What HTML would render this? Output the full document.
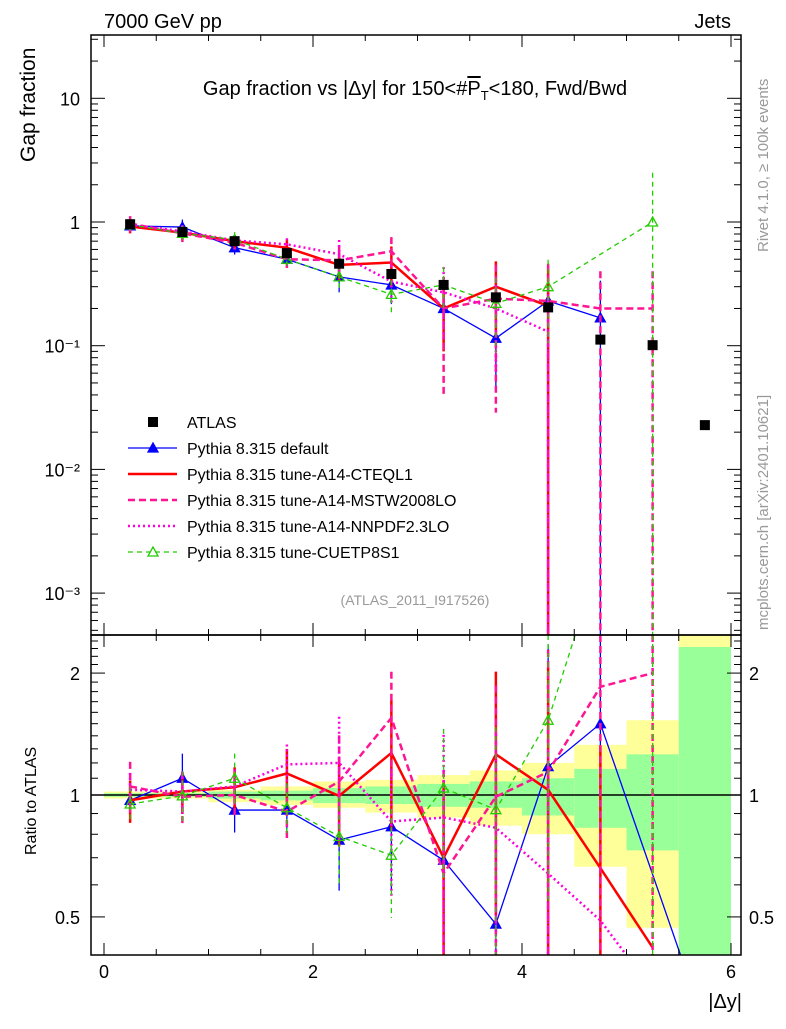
<!DOCTYPE html>
<html><head><meta charset="utf-8"><style>
body{margin:0;background:#fff;font-family:"Liberation Sans",sans-serif;}
svg text{font-family:"Liberation Sans","DejaVu Sans",sans-serif;}
</style></head><body>
<svg id="c" width="786" height="1024" xmlns="http://www.w3.org/2000/svg">
<text x="104" y="28" font-size="20">7000 GeV pp</text>
<text x="731" y="28" font-size="20" text-anchor="end">Jets</text>
<text x="415" y="95" font-size="20" text-anchor="middle">Gap fraction vs |Δy| for 150&lt;#<tspan text-decoration="overline">P</tspan><tspan font-size="13" dy="5">T</tspan><tspan dy="-5">&lt;180, Fwd/Bwd</tspan></text>
<text transform="translate(35,162) rotate(-90)" font-size="21">Gap fraction</text>
<text transform="translate(36,855) rotate(-90)" font-size="16">Ratio to ATLAS</text>
<text transform="translate(768,252) rotate(-90)" font-size="15" fill="#999">Rivet 4.1.0, ≥ 100k events</text>
<text transform="translate(768,630) rotate(-90)" font-size="15" fill="#999">mcplots.cern.ch [arXiv:2401.10621]</text>
<text x="415" y="605" font-size="14" fill="#999" text-anchor="middle">(ATLAS_2011_I917526)</text>
<text x="742" y="1008" font-size="20" text-anchor="end">|Δy|</text>
<g id="bands"></g><g id="marks"></g><g id="axes"></g><g id="legend"></g>
</svg>
<script>
const xCenters=[0.25,0.75,1.25,1.75,2.25,2.75,3.25,3.75,4.25,4.75,5.25,5.75];
const atlas=[0.96,0.83,0.7,0.56,0.46,0.38,0.31,0.246,0.204,0.112,0.101,0.0228];
const bandYellowUp=[0.02,0.02,0.03,0.05,0.08,0.09,0.12,0.15,0.2,0.33,0.53,2];
const bandYellowDn=[0.02,0.02,0.04,0.055,0.07,0.095,0.12,0.16,0.2,0.335,0.53,0.9];
const bandGreenUp=[0.01,0.01,0.02,0.025,0.04,0.05,0.065,0.08,0.1,0.16,0.26,1.32];
const bandGreenDn=[0.01,0.01,0.02,0.03,0.045,0.05,0.065,0.07,0.11,0.17,0.27,0.9];
const topDefault=[0.93,0.91,0.62,0.5,0.36,0.31,0.2,0.115,0.23,0.168,null,null];
const topCTEQ=[0.92,0.82,0.7,0.62,0.45,0.47,0.2,0.3,0.21,null,null,null];
const topMSTW=[0.97,0.81,0.68,0.5,0.49,0.58,0.2,0.24,0.23,0.2,0.2,null];
const topNNPDF=[0.95,0.84,0.71,0.66,0.55,0.33,0.27,0.2,0.13,null,null,null];
const topCUETP=[0.95,0.81,0.72,0.5,0.36,0.26,0.31,0.22,0.3,null,1.0,null];
const ratDefault=[0.97,1.1,0.918,0.918,0.774,0.835,0.69,0.48,1.175,1.5,null,0.27];
const ratCTEQ=[0.97,1.02,1.045,1.13,0.995,1.27,0.7,1.26,1.03,0.66,0.42,null];
const ratMSTW=[1.05,0.99,1.0,0.91,1.08,1.55,0.64,0.99,1.14,1.85,2.0,null];
const ratNNPDF=[1.03,1.02,1.05,1.19,1.2,0.86,0.88,0.83,0.64,0.49,0.33,null];
const ratCUETP=[0.95,0.995,1.1,0.93,0.79,0.71,1.04,0.92,1.53,null,9.9,null];
const errDefault=[0.1,0.15,0.12,0.12,0.25,0.3,0.5,0.6,1.0,1.0,0,0];
const errCTEQ=[0.12,0.12,0.12,0.15,0.25,0.35,0.55,0.6,1.0,1.0,0,0];
const errMSTW=[0.15,0.15,0.12,0.15,0.3,0.3,0.8,0.88,1.0,1.0,1.0,0];
const errNNPDF=[0.1,0.12,0.1,0.12,0.3,0.35,0.6,0.7,1.0,0,0,0];
const errCUETP=[0.1,0.15,0.15,0.15,0.25,0.3,0.4,0.6,0.65,0,1.5,0];
const yTickLabels=["10","1","10⁻¹","10⁻²","10⁻³"];
const xTickLabels=["0","2","4","6"];
const rTickLabels=["0.5","1","2"];

const NS="http://www.w3.org/2000/svg";
const L=91,R=741,T=35,M=635,B=955;
const xs=v=>104+v*104.5;
const ys=v=>222-123.7*Math.log10(v);
const rs=v=>795-405*Math.log10(v);
function mk(tag,attrs,parent){const e=document.createElementNS(NS,tag);for(const k in attrs)e.setAttribute(k,attrs[k]);document.getElementById(parent).appendChild(e);return e;}
function clampT(y){return Math.max(T,Math.min(M,y));}
function clampR(y){return Math.max(M,Math.min(B,y));}

for(let i=0;i<xCenters.length;i++){
  const x0=xs(xCenters[i]-0.25),x1=xs(xCenters[i]+0.25);
  let y1=clampR(rs(1+bandYellowUp[i])),y2=clampR(rs(Math.max(0.01,1-bandYellowDn[i])));
  let e=mk('rect',{x:x0,y:y1,width:x1-x0,height:y2-y1,fill:'#ffff99'},'bands');
  
  
  y1=clampR(rs(1+bandGreenUp[i]));y2=clampR(rs(Math.max(0.01,1-bandGreenDn[i])));
  e=mk('rect',{x:x0,y:y1,width:x1-x0,height:y2-y1,fill:'#99ff99'},'bands');
  
  
}
let ln=mk('line',{x1:L,x2:R,y1:rs(1),y2:rs(1),stroke:'#000','stroke-width':1.5},'bands');



const series=[
 {name:'default',top:topDefault,rat:ratDefault,err:errDefault,col:'#0000ff',w:1.3,dash:'',mark:'tri'},
 {name:'cteql1',top:topCTEQ,rat:ratCTEQ,err:errCTEQ,col:'#ff0000',w:2.5,dash:'',mark:null},
 {name:'mstw2008lo',top:topMSTW,rat:ratMSTW,err:errMSTW,col:'#ff1493',w:2.5,dash:'7,4',mark:null},
 {name:'nnpdf23lo',top:topNNPDF,rat:ratNNPDF,err:errNNPDF,col:'#ff00dd',w:2.5,dash:'2,3',mark:null},
 {name:'cuetp8s1',top:topCUETP,rat:ratCUETP,err:errCUETP,col:'#22cc00',w:1.3,dash:'5,4',mark:'otri'}
];
function drawSeries(s,vals,scale,clamp,clipId,panel){
  let pts=[];
  vals.forEach((v,i)=>{if(v!=null)pts.push([xs(xCenters[i]),scale(v),i,v]);});
  let p=mk('polyline',{points:pts.map(q=>q[0]+','+q[1]).join(' '),fill:'none',stroke:s.col,'stroke-width':s.w,'stroke-dasharray':s.dash,'clip-path':'url(#'+clipId+')'},'marks');
  
  
  pts.forEach(q=>{
    const e=s.err[q[2]];
    if(e>0){
      const yu=clamp(scale(q[3]*(1+e))),yd=e>=1?clamp(99999):clamp(scale(q[3]*(1-e)));
      let b=mk('line',{x1:q[0],x2:q[0],y1:yu,y2:yd,stroke:s.col,'stroke-width':s.w>2?2.5:1.3,'stroke-dasharray':s.dash},'marks');
      
      
    }
    if(s.mark&&q[1]>=clamp(-1)&&q[1]<=clamp(99999)){
      const x=q[0],y=q[1];
      let m=mk('polygon',{points:`${x-5},${y+4} ${x+5},${y+4} ${x},${y-5}`,fill:s.mark=='tri'?s.col:'none',stroke:s.col,'stroke-width':1.3},'marks');
      
      
    }
  });
}
const defs=mk('defs',{},'marks');
let cp=document.createElementNS(NS,'clipPath');cp.setAttribute('id','clipT');defs.appendChild(cp);
let cr=document.createElementNS(NS,'rect');cr.setAttribute('x',L);cr.setAttribute('y',T);cr.setAttribute('width',R-L);cr.setAttribute('height',M-T);cp.appendChild(cr);
cp=document.createElementNS(NS,'clipPath');cp.setAttribute('id','clipR');defs.appendChild(cp);
cr=document.createElementNS(NS,'rect');cr.setAttribute('x',L);cr.setAttribute('y',M);cr.setAttribute('width',R-L);cr.setAttribute('height',B-M);cp.appendChild(cr);
series.forEach(s=>{drawSeries(s,s.top,ys,clampT,'clipT','main');drawSeries(s,s.rat,rs,clampR,'clipR','ratio');});
atlas.forEach((v,i)=>{
  let r=mk('rect',{x:xs(xCenters[i])-5,y:ys(v)-5,width:10,height:10,fill:'#000'},'marks');
  
  
});

function ax(tag,a){const e=mk(tag,a,'axes');return e;}
let fr=ax('rect',{x:L,y:T,width:R-L,height:M-T,fill:'none',stroke:'#000','stroke-width':1.5});

fr=ax('rect',{x:L,y:M,width:R-L,height:B-M,fill:'none',stroke:'#000','stroke-width':1.5});

for(let v=0;v<=6.01;v+=0.5){
  const x=xs(v),big=Math.abs(v-Math.round(v/2)*2)<0.01;const len=big?12:6;
  [[M,M-len],[M,M+len],[T,T+len],[B,B-len]].forEach(p=>{let t=ax('line',{x1:x,x2:x,y1:p[0],y2:p[1],stroke:'#000','stroke-width':1});});
}
xTickLabels.forEach((s,i)=>{let t=ax('text',{x:xs(i*2),y:978,'font-size':18,'text-anchor':'middle'});t.textContent=s;});
for(let d=-4;d<=1;d++){for(let k=1;k<10;k++){const v=k*Math.pow(10,d);const y=ys(v);if(y<T||y>M)continue;const len=k==1?14:7;
  [[L,L+len],[R,R-len]].forEach(p=>{let t=ax('line',{x1:p[0],x2:p[1],y1:y,y2:y,stroke:'#000','stroke-width':1});});}}
yTickLabels.forEach((s,i)=>{let t=ax('text',{x:80,y:ys(Math.pow(10,1-i))+7,'font-size':18,'text-anchor':'end'});t.textContent=s;});
for(let v=0.4;v<=2.5;v+=0.1){const y=rs(v);if(y<M||y>B)continue;const big=[0.5,1,2].some(q=>Math.abs(q-v)<0.01);const len=big?14:7;
  [[L,L+len],[R,R-len]].forEach(p=>{let t=ax('line',{x1:p[0],x2:p[1],y1:y,y2:y,stroke:'#000','stroke-width':1});});}
rTickLabels.forEach(s=>{const y=rs(parseFloat(s))+7;
  let t=ax('text',{x:80,y:y,'font-size':18,'text-anchor':'end'});t.textContent=s;
  t=ax('text',{x:749,y:y,'font-size':18});t.textContent=s;});

const legNames=["ATLAS","Pythia 8.315 default","Pythia 8.315 tune-A14-CTEQL1","Pythia 8.315 tune-A14-MSTW2008LO","Pythia 8.315 tune-A14-NNPDF2.3LO","Pythia 8.315 tune-CUETP8S1"];
legNames.forEach((n,i)=>{
  const y=422+26*i;
  if(i==0){let r=mk('rect',{x:148,y:y-5,width:10,height:10,fill:'#000'},'legend');}
  else{const s=series[i-1];
    let l=mk('line',{x1:128,x2:177,y1:y,y2:y,stroke:s.col,'stroke-width':s.w>2?2.5:1.3,'stroke-dasharray':s.dash},'legend');
    if(s.mark){let m=mk('polygon',{points:`${148},${y+4} ${158},${y+4} ${153},${y-5}`,fill:s.mark=='tri'?s.col:'#fff',stroke:s.col,'stroke-width':1.3},'legend');}
  }
  let t=mk('text',{x:187,y:y+6,'font-size':16},'legend');t.textContent=n;
  
  
});
</script>
</body></html>
